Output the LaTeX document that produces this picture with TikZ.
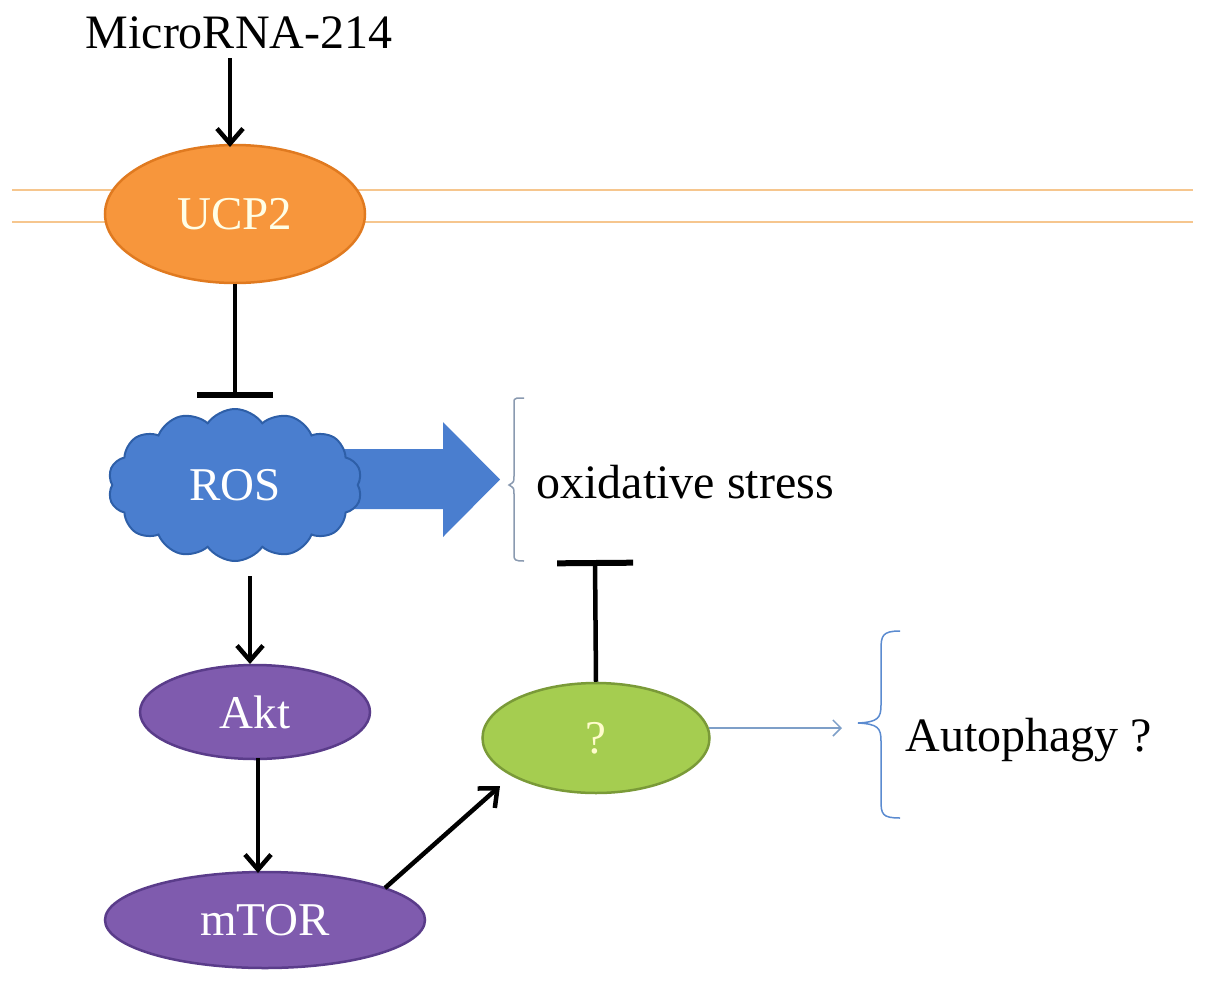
\documentclass[tikz,border=0pt]{standalone}
\usepackage{fontspec}
\setmainfont{Liberation Serif}
\usetikzlibrary{shapes.symbols,shapes.geometric,arrows.meta}
\definecolor{ucpfill}{HTML}{F7963C}
\definecolor{ucpdraw}{HTML}{E07A20}
\definecolor{rosfill}{HTML}{4A7ECF}
\definecolor{rosdraw}{HTML}{2E5FA8}
\definecolor{purfill}{HTML}{7F5BAE}
\definecolor{purdraw}{HTML}{5A3C8A}
\definecolor{grnfill}{HTML}{A5CD50}
\definecolor{grndraw}{HTML}{7A9A38}
\definecolor{memb}{HTML}{F6C68E}
\definecolor{thinblue}{HTML}{7E9FC8}
\definecolor{bracecol}{HTML}{5B8BD0}
\definecolor{graybr}{HTML}{8A9AB0}
\tikzset{
  lbl/.style={font=\fontsize{48}{52}\selectfont},
  oval/.style={ellipse, line width=2.5pt, inner sep=0pt, font=\fontsize{47}{52}\selectfont},
  act/.style={line width=4.5pt, -{Straight Barb[length=15pt,width=26pt,line width=4.5pt]}},
  inh/.style={line width=4.5pt, -{Bar[width=76pt,line width=6pt]}},
}
\begin{document}
\begin{tikzpicture}[x=1pt,y=-1pt]
\useasboundingbox (0,0) rectangle (1205,983);
% membrane
\draw[memb, line width=2pt] (12,190) -- (1193,190);
\draw[memb, line width=2pt] (12,222) -- (1193,222);
% big block arrow (drawn directly)
\fill[rosfill] (330,449) -- (443,449) -- (443,422) -- (500,479.5) -- (443,537) -- (443,509) -- (330,509) -- cycle;
% nodes
\node[lbl] (mir) at (239,33) {MicroRNA-214};
\node[oval, fill=ucpfill, draw=ucpdraw, minimum width=260pt, minimum height=138pt, text=white!90!yellow] (ucp) at (235,214) {UCP2};
\node[cloud, cloud puffs=14, cloud puff arc=110, aspect=1.6, fill=rosfill, draw=rosdraw, line width=2pt, minimum width=254pt, minimum height=152pt, inner sep=0pt, font=\fontsize{47}{52}\selectfont, text=white] (ros) at (235,485) {ROS};
\node[oval, fill=purfill, draw=purdraw, minimum width=230pt, minimum height=94pt, text=white] (akt) at (255,712) {Akt};
\node[oval, fill=purfill, draw=purdraw, minimum width=320pt, minimum height=96pt, text=white] (mtor) at (265,920) {mTOR};
\node[oval, fill=grnfill, draw=grndraw, minimum width=227pt, minimum height=110pt, text=yellow!20!white] (q) at (596,738) {?};
\node[lbl, anchor=west] (ox) at (533,482) {oxidative stress};
\node[lbl, anchor=west] (aut) at (902,740) {Autophagy ?};
\coordinate (mirout) at (230,58);
\coordinate (ucpin) at (230,147);
\coordinate (ucpinh) at (235,398);
\coordinate (rosout) at (250,576);
\coordinate (aktin) at (250,664);
\coordinate (aktout) at (258,758);
\coordinate (mtorin) at (258,873);
\coordinate (mtorout) at (385,888);
\coordinate (qin) at (500,786);
\coordinate (qinh) at (595,560);
\coordinate (qout) at (709,728);
\coordinate (qarr) at (842,728);
% connectors
\draw[act] (mirout) -- (ucpin);
\draw[inh] (ucp.south) -- (ucpinh);
\draw[act] (rosout) -- (aktin);
\draw[act] (aktout) -- (mtorin);
\draw[act] (mtorout) -- (qin);
\draw[inh] (q.north) -- (qinh);
\draw[thinblue, line width=1.5pt, -{Straight Barb[length=8pt,width=16pt,line width=1.5pt]}] (qout) -- (qarr);
% braces
\draw[graybr, line width=1.5pt] (524,398) -- (517,398) .. controls (514,398) and (514,400) .. (514,404) -- (514,476) .. controls (514,482) .. (509,485) .. controls (514,488) .. (514,494) -- (514,555) .. controls (514,560) and (515,561) .. (524,561);
\draw[bracecol, line width=1.5pt] (900,631) .. controls (882,631) and (881,636) .. (881,650) -- (881,705) .. controls (881,718) and (878,722) .. (858,723) .. controls (878,724) and (881,728) .. (881,741) -- (881,800) .. controls (881,814) and (882,818) .. (900,818);
\end{tikzpicture}
\end{document}
